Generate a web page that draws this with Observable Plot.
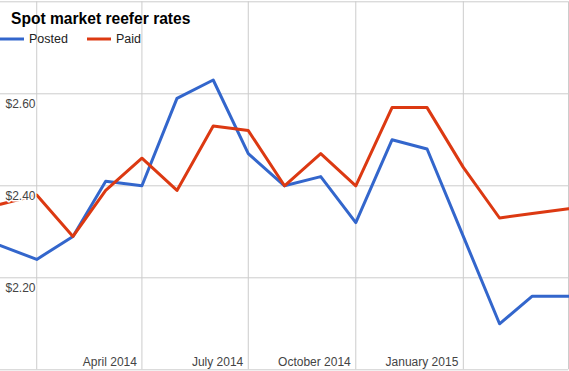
<!DOCTYPE html>
<html>
<head>
<meta charset="utf-8">
<script src="https://cdn.jsdelivr.net/npm/d3@7"></script>
<script src="https://cdn.jsdelivr.net/npm/@observablehq/plot@0.6"></script>
<style>
  body { margin: 0; background: #fff; }
  #chart { position: relative; width: 569px; height: 371px; }
  svg { display: block; }
</style>
</head>
<body>
<div id="chart"></div>
<script>
const title = "Spot market reefer rates";
const months = ["2013-12","2014-01","2014-02","2014-03","2014-04","2014-05","2014-06","2014-07","2014-08","2014-09","2014-10","2014-11","2014-12","2015-01","2015-02","2015-03","2015-04"];
const posted = [2.27, 2.24, 2.29, 2.41, 2.40, 2.59, 2.63, 2.47, 2.40, 2.42, 2.32, 2.50, 2.48, 2.29, 2.10, 2.16, 2.16];
const paid   = [2.36, 2.38, 2.29, 2.39, 2.46, 2.39, 2.53, 2.52, 2.40, 2.47, 2.40, 2.57, 2.57, 2.44, 2.33, 2.34, 2.35];
const seriesNames = ["Posted", "Paid"];
const seriesColors = ["#3366cc", "#dc3912"];
const xGrid = ["2014-01","2014-04","2014-07","2014-10","2015-01","2015-04"];
const xLabelDates = ["2014-04","2014-07","2014-10","2015-01"];
const xLabels = ["April 2014","July 2014","October 2014","January 2015"];
const yGrid = [2.0, 2.2, 2.4, 2.6, 2.8];
const yLabelValues = [2.2, 2.4, 2.6];

const parse = s => new Date(s + "-01T00:00:00Z");
const postedData = months.map((m, i) => ({date: parse(m), value: posted[i]}));
const paidData = months.map((m, i) => ({date: parse(m), value: paid[i]}));
const font = "'Liberation Sans', Arial, sans-serif";

const chart = Plot.plot({
  width: 569,
  height: 371,
  marginLeft: 0,
  marginRight: 1,
  marginTop: 1.3,
  marginBottom: 1.7,
  style: {fontFamily: font, background: "white"},
  x: {type: "utc", domain: [parse(months[0]), parse(months[months.length - 1])], axis: null},
  y: {domain: [2.0, 2.8], axis: null},
  marks: [
    Plot.ruleX(xGrid.map(parse), {stroke: "#cccccc", strokeWidth: 1}),
    Plot.ruleY(yGrid, {stroke: "#cccccc", strokeWidth: 1}),
    Plot.line(postedData, {x: "date", y: "value", stroke: seriesColors[0], strokeWidth: 3}),
    Plot.line(paidData, {x: "date", y: "value", stroke: seriesColors[1], strokeWidth: 3}),
    Plot.text(yLabelValues, {y: d => d, frameAnchor: "left", text: d => "$" + d.toFixed(2), textAnchor: "start", dx: 5, dy: 10, fontSize: 12, fill: "#444", stroke: "white", strokeWidth: 3}),
    Plot.text(xLabelDates.map((d, i) => ({date: parse(d), label: xLabels[i]})), {x: "date", frameAnchor: "bottom", text: "label", textAnchor: "end", lineAnchor: "bottom", dx: -5, dy: -4, fontSize: 12, fill: "#444"})
  ]
});
document.getElementById("chart").appendChild(chart);

// Title and legend overlaid on the chart
const svg = d3.select(chart);
const g = svg.append("g").attr("font-family", font).attr("text-anchor", "start");
g.append("text").attr("x", 11).attr("y", 24).attr("font-size", 15.6).attr("font-weight", "bold").attr("fill", "#000").text(title);
const legendX = [0, 87];
seriesNames.forEach((name, i) => {
  g.append("line").attr("x1", legendX[i]).attr("x2", legendX[i] + 24).attr("y1", 39).attr("y2", 39)
    .attr("stroke", seriesColors[i]).attr("stroke-width", 3);
  g.append("text").attr("x", legendX[i] + 29).attr("y", 43.3).attr("font-size", 12.5).attr("fill", "#222").text(name);
});
</script>
</body>
</html>
